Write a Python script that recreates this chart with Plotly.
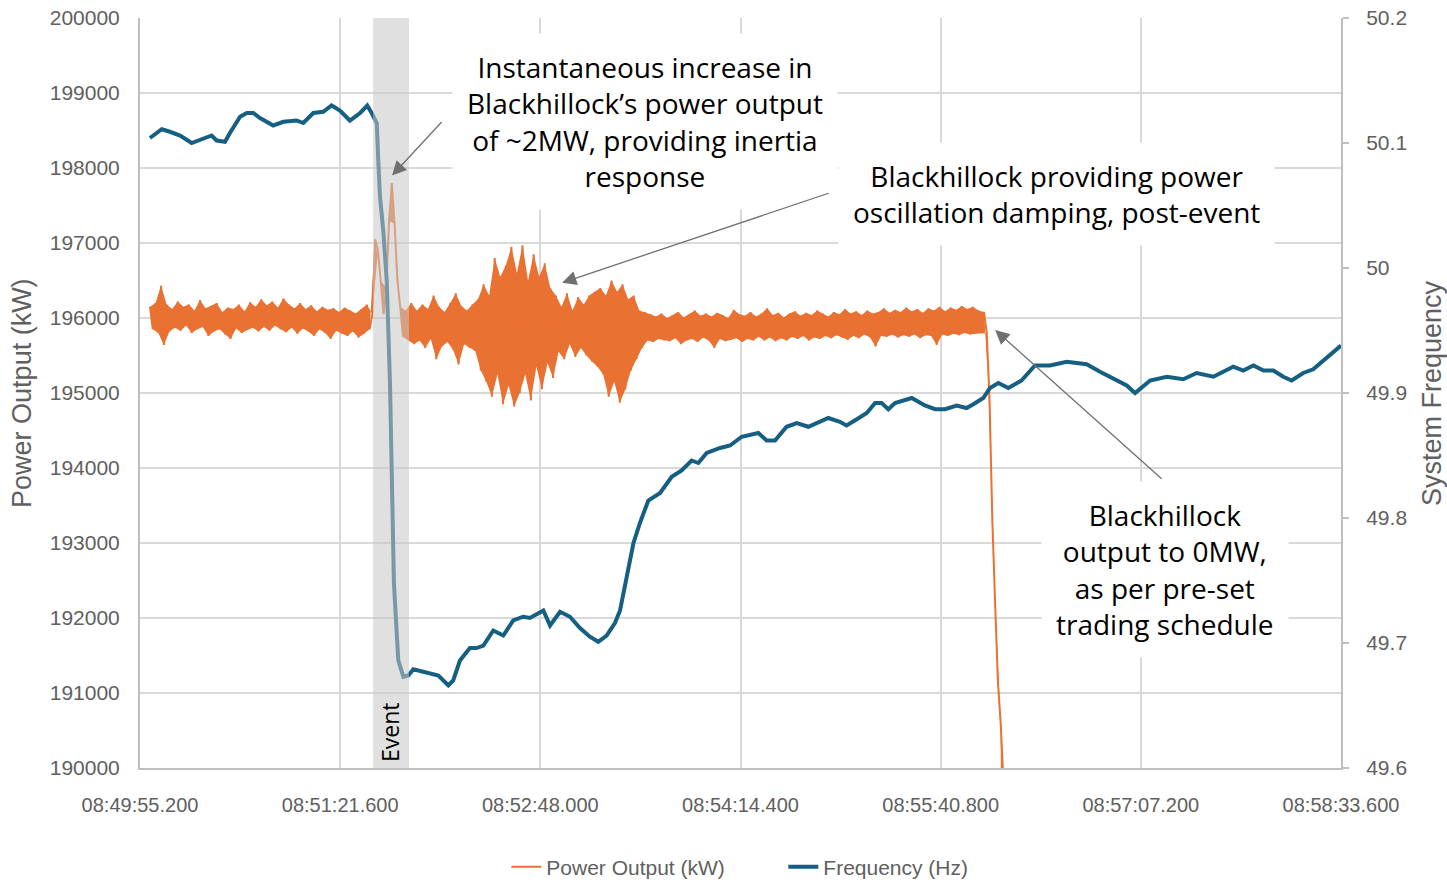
import pandas as pd
import plotly.graph_objects as go

# Settings
start = pd.Timestamp("2024-01-01 08:49:55.200")
span_s = 518.4
event_start_s = 100.6
event_end_s = 116.1
blue = "#156082"
orange = "#E97132"
grey_text = "#606060"
sans = "Liberation Sans, Arial, sans-serif"
note_font = "Open Sans, Noto Sans, sans-serif"

x_tick_labels = ["08:49:55.200", "08:51:21.600", "08:52:48.000", "08:54:14.400",
                 "08:55:40.800", "08:57:07.200", "08:58:33.600"]

# System frequency (seconds after 08:49:55.200, Hz)
freq_s = [4.3, 9.4, 12.9, 17.3, 22.3, 26.6, 30.9, 33.1, 36.7, 38.8,
          43.2, 46.1, 48.9, 51.8, 57.5, 61.9, 67.6, 70.5, 74.8, 79.1,
          82.7, 86.3, 90.6, 95.0, 98.1, 100.0, 102.2, 102.9, 103.6, 105.0,
          106.5, 107.9, 108.6, 109.3, 109.6, 110.8, 111.5, 113.7, 115.8, 118.0,
          123.8, 128.8, 133.1, 135.2, 138.1, 142.4, 145.3, 148.2, 152.5, 156.8,
          161.1, 165.4, 168.3, 174.1, 177.0, 181.3, 185.6, 189.9, 194.2, 197.8,
          201.4, 205.0, 207.2, 210.1, 213.0, 215.8, 219.4, 224.5, 229.5, 233.8,
          238.1, 241.0, 244.6, 250.4, 254.7, 259.7, 266.9, 270.5, 274.1, 279.1,
          283.5, 288.5, 293.5, 297.1, 302.1, 305.0, 309.4, 313.7, 317.3, 320.1,
          323.0, 325.9, 333.1, 338.8, 343.2, 347.5, 352.5, 356.8, 359.7, 364.0,
          366.9, 370.5, 374.8, 380.5, 386.3, 392.8, 400.0, 408.6, 414.4, 421.6,
          425.9, 429.5, 436.0, 443.2, 450.3, 456.1, 463.3, 471.9, 476.2, 480.6,
          484.9, 489.2, 493.5, 497.1, 502.1, 506.4, 512.2, 518.4]
freq_hz = [50.104, 50.111, 50.109, 50.106, 50.100, 50.103, 50.106, 50.102, 50.101, 50.108,
           50.121, 50.124, 50.124, 50.120, 50.114, 50.117, 50.118, 50.116, 50.124, 50.125,
           50.130, 50.126, 50.118, 50.124, 50.130, 50.124, 50.116, 50.084, 50.057, 50.030,
           49.990, 49.908, 49.854, 49.774, 49.748, 49.708, 49.686, 49.673, 49.674, 49.679,
           49.676, 49.674, 49.666, 49.670, 49.686, 49.696, 49.696, 49.698, 49.710, 49.706,
           49.718, 49.721, 49.720, 49.726, 49.714, 49.725, 49.721, 49.712, 49.705, 49.701,
           49.706, 49.716, 49.726, 49.753, 49.780, 49.796, 49.814, 49.820, 49.833, 49.838,
           49.846, 49.844, 49.852, 49.856, 49.858, 49.865, 49.868, 49.862, 49.862, 49.873,
           49.876, 49.873, 49.877, 49.880, 49.877, 49.874, 49.879, 49.884, 49.892, 49.892,
           49.887, 49.892, 49.896, 49.890, 49.887, 49.887, 49.890, 49.888, 49.891, 49.896,
           49.904, 49.908, 49.904, 49.910, 49.922, 49.922, 49.925, 49.923, 49.917, 49.910,
           49.906, 49.900, 49.910, 49.913, 49.911, 49.916, 49.913, 49.921, 49.918, 49.922,
           49.918, 49.918, 49.913, 49.910, 49.916, 49.919, 49.928, 49.938]

# Power output, one reading every 1.2 s from 4.3 s (kW)
power_t0_s = 4.3
power_step_s = 1.2
power_kw = [
    # pre-event
    196150, 195850, 196200, 195800, 196430, 195640, 196180, 195820, 196120, 195870,
    196220, 195830, 196150, 195900, 196180, 195800, 196100, 195850, 196240, 195880,
    196130, 195760, 196160, 195820, 196200, 195850, 196080, 195780, 196140, 195720,
    196120, 195860, 196180, 195800, 196090, 195840, 196210, 195870, 196150, 195820,
    196250, 195880, 196170, 195830, 196220, 195900, 196140, 195850, 196260, 195810,
    196180, 195870, 196130, 195790, 196200, 195860, 196120, 195820, 196170, 195760,
    196090, 195850, 196150, 195800, 196110, 195720, 196130, 195830, 196080, 195790,
    196140, 195760, 196100, 195820, 196060, 195740, 196120, 195790, 196180, 195850,
    # event / inertia response
    196050, 197050, 196900, 196500, 196050, 196400, 197300, 197800, 197250, 196500,
    196150, 195750, 196100, 195700,
    # post-event damping
    196200, 195650, 196100, 195700, 196180, 195600, 196120, 195720, 196300, 195450,
    196150, 195620, 196080, 195680, 196200, 195580, 196330, 195380, 196160, 195650,
    196100, 195600, 196180, 195560, 196250,
    195300, 196450, 195150, 196300, 194950, 196800, 195250, 196550, 194850, 196700,
    195100, 196950, 194820, 196600, 195000, 196970, 195250, 196500, 194900, 196850,
    195350, 196550, 195050, 196730, 195400, 196400, 195200,
    196300, 195550, 196150, 195450, 196330, 195650, 196100, 195480, 196280, 195600,
    196180, 195500, 196300, 195420, 196350, 195350,
    196400, 195250, 196300, 194950, 196500, 195150, 196350, 194870, 196450, 195050,
    196250, 195300, 196300, 195450, 196100, 195600,
    # steady
    196080, 195700, 196050, 195680, 196020, 195720, 196060, 195700, 196000, 195690,
    196040, 195730, 196080, 195650, 196010, 195700, 196050, 195720, 196100, 195680,
    196030, 195740, 196060, 195700, 196020, 195600, 196070, 195720, 196040, 195690,
    196000, 195710, 196110, 195730, 196050, 195680, 196030, 195720, 196080, 195700,
    196020, 195750, 196060, 195700, 196130, 195740, 196040, 195690, 196070, 195730,
    196010, 195700, 196060, 195750, 196090, 195720, 196030, 195760, 196070, 195700,
    196040, 195740, 196100, 195720, 196060, 195760, 196020, 195730, 196080, 195770,
    196050, 195740, 196120, 195710, 196060, 195760, 196090, 195730, 196040, 195780,
    196100, 195740, 196060, 195620, 196080, 195760, 196130, 195750, 196070, 195780,
    196110, 195740, 196080, 195770, 196140, 195750, 196090, 195780, 196120, 195730,
    196070, 195770, 196130, 195760, 196100, 195640, 196150, 195780, 196090, 195760,
    196140, 195790, 196110, 195770, 196160, 195800, 196120, 195780, 196150, 195790,
    196100, 195800, 196080,
    # ramp to 0MW
    195800, 194900, 193300, 192200, 191150, 190600, 189800, 185000, 170000, 150000,
]


def secs(s):
    return start + pd.to_timedelta(s, unit="s")


def draw():
    power_x = [secs(power_t0_s + i * power_step_s) for i in range(len(power_kw))]
    freq_x = [secs(s) for s in freq_s]
    tick_vals = [pd.Timestamp("2024-01-01 " + t) for t in x_tick_labels]

    fig = go.Figure()
    # solid band between alternate readings so the noisy trace reads as one filled ribbon
    fig.add_trace(go.Scatter(x=power_x[0::2], y=power_kw[0::2], mode="lines",
                             line=dict(color=orange, width=0), showlegend=False, hoverinfo="skip"))
    fig.add_trace(go.Scatter(x=power_x[1::2], y=power_kw[1::2], mode="lines",
                             line=dict(color=orange, width=0), fill="tonexty", fillcolor=orange,
                             showlegend=False, hoverinfo="skip"))
    fig.add_trace(go.Scatter(x=power_x, y=power_kw, mode="lines", name="Power Output (kW)",
                             line=dict(color=orange, width=2, simplify=False)))
    fig.add_trace(go.Scatter(x=freq_x, y=freq_hz, mode="lines", name="Frequency (Hz)",
                             yaxis="y2", line=dict(color=blue, width=4)))

    # event shading sits over the lines
    fig.add_shape(type="rect", xref="x", yref="paper",
                  x0=secs(event_start_s), x1=secs(event_end_s), y0=0, y1=1,
                  fillcolor="rgba(199,199,199,0.55)", line_width=0, layer="above")

    notes = [
        ("Instantaneous increase in<br>Blackhillock’s power output<br>of ~2MW, providing inertia<br>response",
         0.4205, 0.862),
        ("Blackhillock providing power<br>oscillation damping, post-event", 0.7627, 0.766),
        ("Blackhillock<br>output to 0MW,<br>as per pre-set<br>trading schedule", 0.8535, 0.2647),
    ]
    for text, nx, ny in notes:
        fig.add_annotation(text=text, xref="paper", yref="paper", x=nx, y=ny,
                           xanchor="center", yanchor="middle",
                           showarrow=False, bgcolor="white", borderpad=14,
                           font=dict(family=note_font, size=28, color="black"))

    arrows = [(108.8, 197900, 51, -55), (182.2, 196470, 268, -90), (369.1, 195840, 168, 150)]
    for t, kw, ax, ay in arrows:
        fig.add_annotation(x=secs(t), y=kw, xref="x", yref="y", text="", ax=ax, ay=ay,
                           showarrow=True, arrowhead=2, arrowsize=2.2, arrowwidth=1.3,
                           arrowcolor="#707070")

    fig.add_annotation(text="Event", xref="paper", yref="paper", x=0.2082, y=0.048,
                       xanchor="center", yanchor="middle", textangle=-90, showarrow=False,
                       font=dict(family=note_font, size=23, color="black"))
    fig.add_annotation(text="Power Output (kW)", xref="paper", yref="paper", x=-0.0983, y=0.5,
                       xanchor="center", yanchor="middle", textangle=-90, showarrow=False,
                       font=dict(family=sans, size=27, color=grey_text))
    fig.add_annotation(text="System Frequency", xref="paper", yref="paper", x=1.0758, y=0.5,
                       xanchor="center", yanchor="middle", textangle=-90, showarrow=False,
                       font=dict(family=sans, size=27, color=grey_text))

    y_font = dict(family=sans, size=21, color=grey_text)
    fig.update_layout(
        width=1447, height=883,
        margin=dict(l=140, r=106, t=18, b=115, autoexpand=False),
        paper_bgcolor="white", plot_bgcolor="white",
        showlegend=True,
        legend=dict(orientation="h", x=0.305, xanchor="left", y=-0.132, yanchor="middle",
                    entrywidth=232, traceorder="normal",
                    font=dict(family=sans, size=21, color=grey_text)),
        xaxis=dict(type="date", range=[start, secs(span_s)], automargin=False,
                   tickvals=tick_vals, ticktext=x_tick_labels,
                   tickfont=dict(family=sans, size=20, color=grey_text),
                   showgrid=True, gridcolor="#d9d9d9", gridwidth=2,
                   showline=True, linecolor="#bfbfbf", linewidth=2,
                   ticks="", ticklabelstandoff=18, zeroline=False),
        yaxis=dict(range=[190000, 200000], dtick=1000, tickformat="d", tickfont=y_font,
                   automargin=False,
                   showgrid=True, gridcolor="#d9d9d9", gridwidth=2,
                   showline=True, linecolor="#bfbfbf", linewidth=2,
                   ticks="", ticklabelstandoff=14, zeroline=False),
        yaxis2=dict(range=[49.6, 50.2], dtick=0.1, overlaying="y", side="right",
                    tickfont=y_font, showgrid=False, automargin=False,
                    showline=True, linecolor="#bfbfbf", linewidth=2,
                    ticks="outside", ticklen=6, tickcolor="#bfbfbf", tickwidth=2,
                    ticklabelstandoff=13, zeroline=False),
    )
    fig.write_html("out.html", config={"displayModeBar": False},
                   post_script="document.body.style.margin = '0';")


draw()
